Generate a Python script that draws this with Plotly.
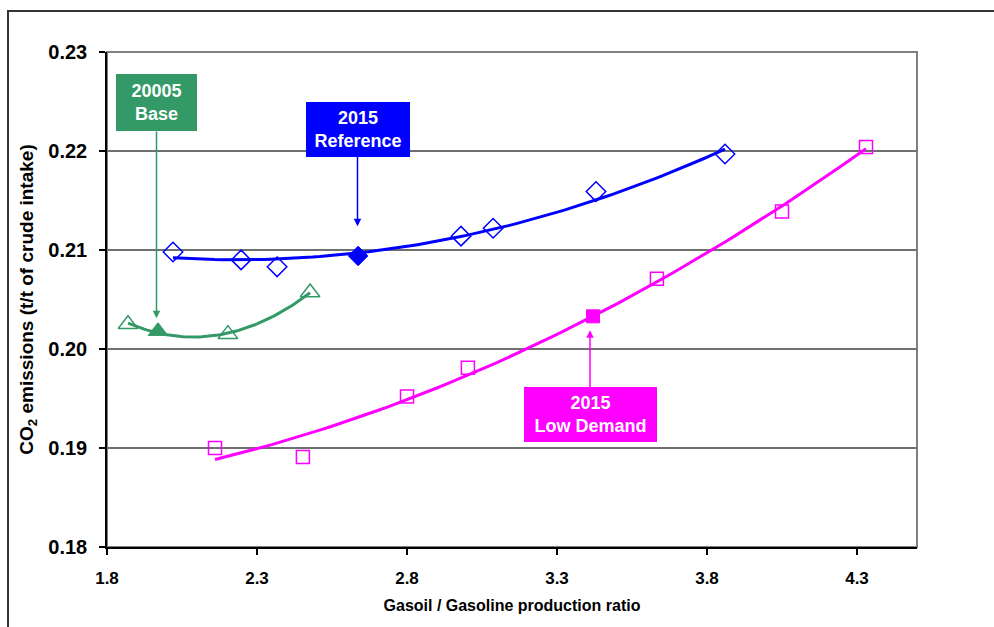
import numpy as np
import plotly.graph_objects as go

# ---- data ----
base_x = [1.87, 1.97, 2.203, 2.477]
base_y = [0.2025, 0.2018, 0.2015, 0.2057]
base_hl = 1  # highlighted (filled) point index

ref_x = [2.02, 2.247, 2.367, 2.637, 2.98, 3.087, 3.43, 3.86]
ref_y = [0.2098, 0.2090, 0.2083, 0.2094, 0.2114, 0.2122, 0.2159, 0.2197]
ref_hl = 3

low_x = [2.16, 2.453, 2.80, 3.003, 3.42, 3.633, 4.05, 4.33]
low_y = [0.1900, 0.1891, 0.1952, 0.1981, 0.2033, 0.2071, 0.2139, 0.2204]
low_hl = 4

x_ticks = [1.8, 2.3, 2.8, 3.3, 3.8, 4.3]
y_ticks = [0.18, 0.19, 0.20, 0.21, 0.22, 0.23]

GREEN = "#339966"
BLUE = "#0000FF"
MAGENTA = "#FF00FF"

fig = go.Figure()


def add_series(xs, ys, hl, color, sym_open, sym_fill, size, deg):
    xs = np.array(xs)
    ys = np.array(ys)
    # polynomial trendline fitted to the data (as in the original spreadsheet)
    coef = np.polyfit(xs, ys, deg)
    xx = np.linspace(xs.min(), xs.max(), 80)
    fig.add_trace(go.Scatter(x=xx, y=np.polyval(coef, xx), mode="lines",
                             line=dict(color=color, width=3), hoverinfo="skip",
                             showlegend=False))
    mask = np.arange(len(xs)) != hl
    fig.add_trace(go.Scatter(x=xs[mask], y=ys[mask], mode="markers",
                             marker=dict(symbol=sym_open, size=size, color=color,
                                         line=dict(color=color, width=1.5)),
                             showlegend=False))
    fig.add_trace(go.Scatter(x=[xs[hl]], y=[ys[hl]], mode="markers",
                             marker=dict(symbol=sym_fill, size=size, color=color,
                                         line=dict(color=color, width=1)),
                             showlegend=False))


add_series(base_x, base_y, base_hl, GREEN, "triangle-up-open", "triangle-up", 17, 2)
add_series(ref_x, ref_y, ref_hl, BLUE, "diamond-open", "diamond", 15, 2)
add_series(low_x, low_y, low_hl, MAGENTA, "square-open", "square", 13, 2)

box_font = dict(family="Liberation Sans, Arial, sans-serif", size=18, color="white")


def callout(text, tip_x, tip_y, box_y, color, w, h):
    fig.add_annotation(x=tip_x, y=tip_y, ax=tip_x, ay=box_y, axref="x", ayref="y",
                       xref="x", yref="y", text="<b>" + text + "</b>", showarrow=True,
                       arrowhead=2, arrowsize=1, arrowwidth=1.5, arrowcolor=color,
                       standoff=0, bgcolor=color, font=box_font, width=w, height=h,
                       borderpad=0, borderwidth=0, align="center", valign="middle")


callout("20005<br>Base", 1.965, 0.2031, 0.22485, GREEN, 81, 57)
callout("2015<br>Reference", 2.635, 0.2124, 0.22217, BLUE, 104, 55)
callout("2015<br>Low Demand", 3.41, 0.2019, 0.19338, MAGENTA, 133, 55)

# plot-area grey border and outer frame
fig.add_shape(type="rect", xref="paper", yref="paper", x0=0, x1=1, y0=0, y1=1,
              line=dict(color="#808080", width=2), layer="below")
fig.add_shape(type="path", xref="paper", yref="paper",
              path="M -0.1222 -0.3 L -0.1222 1.0828 L 1.3 1.0828",
              line=dict(color="#333333", width=2))

fig.update_layout(
    width=994, height=627,
    margin=dict(l=107, r=77, t=52, b=80),
    paper_bgcolor="white", plot_bgcolor="white",
    showlegend=False,
)

fig.update_xaxes(
    range=[1.8, 4.5], tickvals=x_ticks, ticktext=[f"{v:.1f}" for v in x_ticks],
    showgrid=False, zeroline=False, showline=True, linecolor="black", linewidth=1.5,
    ticks="outside", ticklen=6, tickcolor="black", tickwidth=1.5,
    tickfont=dict(family="Liberation Sans, Arial", size=17, color="black", weight="bold"),
    ticklabelstandoff=9,
    title=dict(text="<b>Gasoil / Gasoline production ratio</b>", standoff=13,
               font=dict(family="Liberation Sans, Arial", size=16, color="black")),
)
fig.update_yaxes(
    range=[0.18, 0.23], tickvals=y_ticks, ticktext=[f"{v:.2f}" for v in y_ticks],
    showgrid=True, gridcolor="#707070", gridwidth=1.5, zeroline=False,
    showline=True, linecolor="black", linewidth=1.5,
    ticks="outside", ticklen=6, tickcolor="black", tickwidth=1.5,
    tickfont=dict(family="Liberation Sans, Arial", size=20, color="black", weight="bold"),
    ticklabelstandoff=8,
    title=dict(text="<b>CO<sub>2</sub> emissions (t/t of crude intake)</b>", standoff=10,
               font=dict(family="Liberation Sans, Arial", size=19, color="black")),
)

fig.write_html("out.html")
